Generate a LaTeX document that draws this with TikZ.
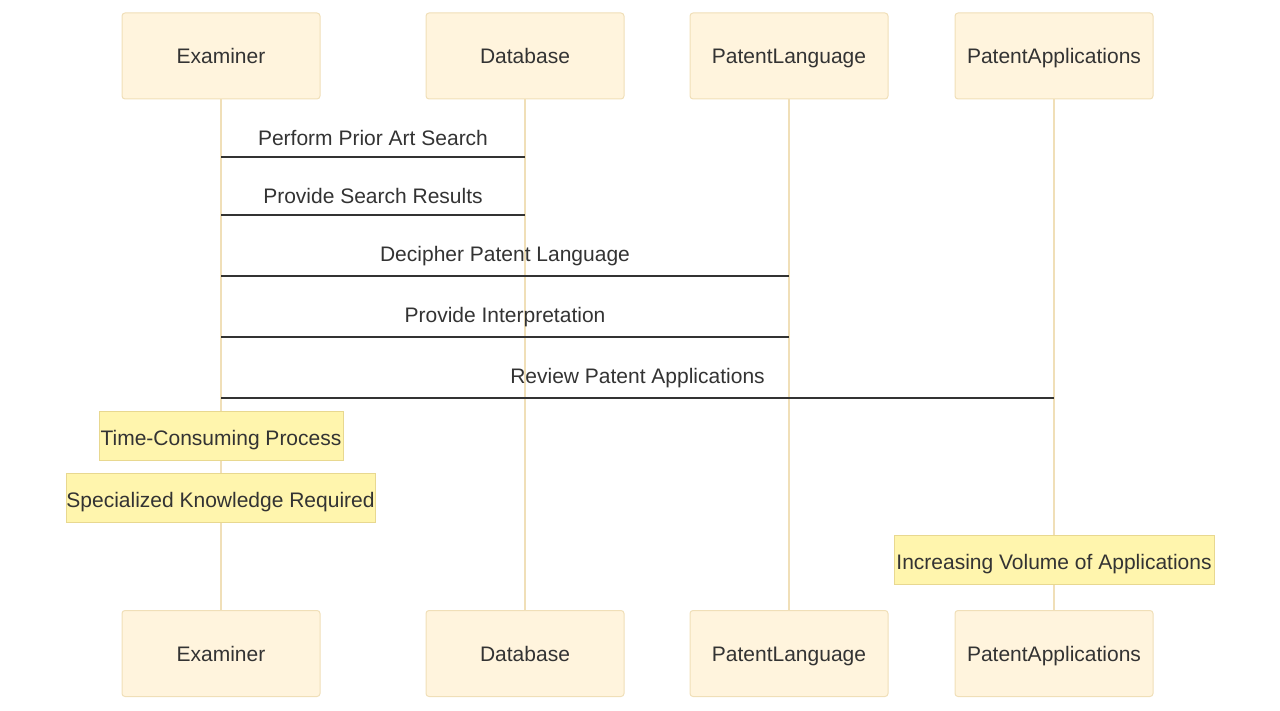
\documentclass[tikz,border=0pt]{standalone}
\usepackage{fontspec}
\setmainfont{Liberation Sans}
\definecolor{actfill}{HTML}{FFF4DD}
\definecolor{actdraw}{HTML}{F0DFB8}
\definecolor{life}{HTML}{F0DFB8}
\definecolor{notefill}{HTML}{FFF5AD}
\definecolor{notedraw}{HTML}{E8D890}
\definecolor{txt}{HTML}{333333}
\begin{document}
\begin{tikzpicture}[x=1pt,y=-1pt,
  lbl/.style={text=txt,font=\fontsize{21}{24}\selectfont,text height=15pt,text depth=0pt},
  actor/.style={lbl,draw=actdraw,fill=actfill,line width=1pt,rounded corners=3pt,minimum width=198pt,minimum height=86pt,inner sep=0pt},
  notebox/.style={lbl,text height=19pt,draw=notedraw,fill=notefill,line width=1pt,minimum height=49pt,inner sep=0pt},
  lifeline/.style={draw=life,line width=2.5pt},
  msg/.style={draw=txt,line width=1.6pt},
  msglabel/.style={lbl,inner sep=0pt}]
\useasboundingbox (0,0) rectangle (1280,711);
% actors
\node[actor] (a1) at (221,56) {Examiner};
\node[actor] (a2) at (525,56) {Database};
\node[actor] (a3) at (789,56) {PatentLanguage};
\node[actor] (a4) at (1054,56) {PatentApplications};
\node[actor] (b1) at (221,653.5) {Examiner};
\node[actor] (b2) at (525,653.5) {Database};
\node[actor] (b3) at (789,653.5) {PatentLanguage};
\node[actor] (b4) at (1054,653.5) {PatentApplications};
% lifelines
\draw[lifeline] (a1.south) -- (b1.north);
\draw[lifeline] (a2.south) -- (b2.north);
\draw[lifeline] (a3.south) -- (b3.north);
\draw[lifeline] (a4.south) -- (b4.north);
% message coordinates
\coordinate (m1s) at (221,157); \coordinate (m1e) at (525,157);
\coordinate (m2s) at (221,215); \coordinate (m2e) at (525,215);
\coordinate (m3s) at (221,276); \coordinate (m3e) at (789,276);
\coordinate (m4s) at (221,337); \coordinate (m4e) at (789,337);
\coordinate (m5s) at (221,398); \coordinate (m5e) at (1054,398);
\draw[msg] (m1s) -- (m1e);
\draw[msg] (m2s) -- (m2e);
\draw[msg] (m3s) -- (m3e);
\draw[msg] (m4s) -- (m4e);
\draw[msg] (m5s) -- (m5e);
\node[msglabel] (l1) at (373,138) {Perform Prior Art Search};
\node[msglabel] (l2) at (373,196) {Provide Search Results};
\node[msglabel] (l3) at (505,254) {Decipher Patent Language};
\node[msglabel] (l4) at (505,315) {Provide Interpretation};
\node[msglabel] (l5) at (637.5,376) {Review Patent Applications};
% notes
\node[notebox,minimum width=244pt] (n1) at (221,435.5) {Time-Consuming Process};
\node[notebox,minimum width=309pt] (n2) at (220.5,497.5) {Specialized Knowledge Required};
\node[notebox,minimum width=320pt] (n3) at (1054,559.5) {Increasing Volume of Applications};
\end{tikzpicture}
\end{document}
